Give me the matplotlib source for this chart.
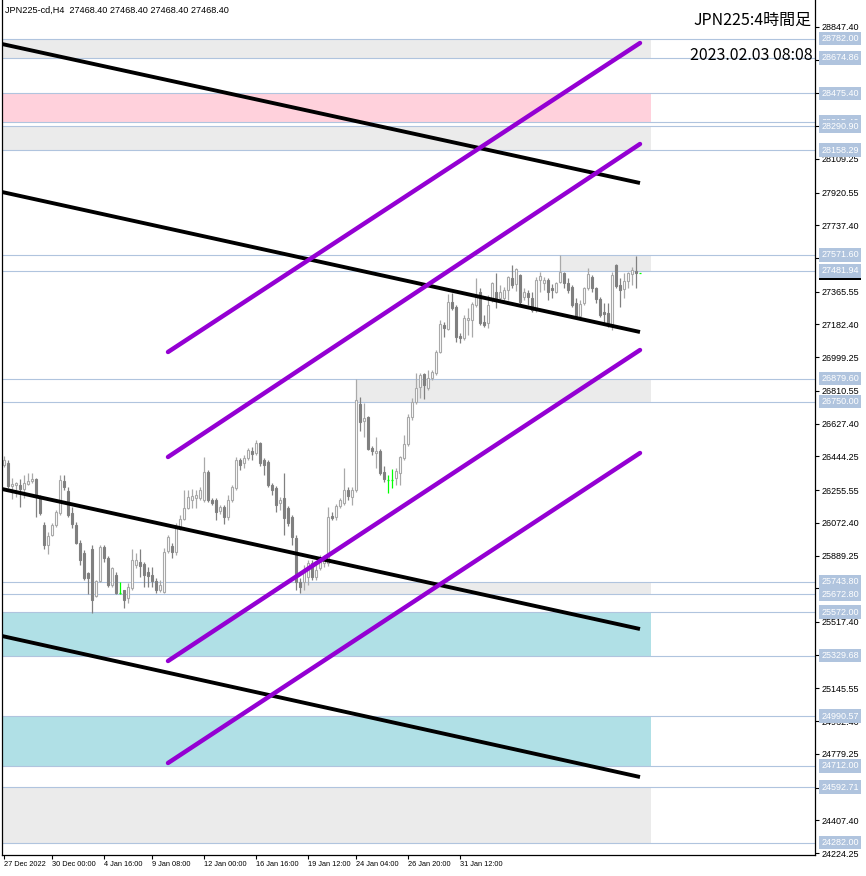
import matplotlib
matplotlib.use('Agg')
import matplotlib.pyplot as plt
import matplotlib.transforms as mtransforms

# JPN225 H4 candles, oldest first
opens = [26396, 26407, 26278, 26284, 26284, 26262, 26290, 26306, 26318, 26217,
         26060, 25948, 26004, 26060, 26127, 26306, 26250, 26127, 26060, 25959,
         25903, 25791, 25926, 25662, 25746, 25937, 25875, 25724, 25780, 25679,
         25696, 25651, 25707, 25836, 25853, 25842, 25797, 25780, 25746, 25696,
         25685, 25914, 25942, 25909, 26049, 26094, 26155, 26200, 26211, 26211,
         26200, 26357, 26200, 26200, 26138, 26161, 26105, 26200, 26267, 26424,
         26407, 26435, 26474, 26463, 26519, 26424, 26413, 26284, 26267, 26183,
         26211, 26155, 26105, 25987, 25741, 25741, 25769, 25847, 25769, 25819,
         25847, 25847, 26110, 26105, 26166, 26183, 26256, 26217, 26256, 26737,
         26642, 26665, 26491, 26463, 26474, 26357, 26312, 26312, 26323, 26351,
         26435, 26513, 26665, 26749, 26833, 26906, 26827, 26883, 26911, 27028,
         27180, 27157, 27308, 27280, 27118, 27107, 27208, 27208, 27291, 27364,
         27197, 27191, 27319, 27364, 27331, 27331, 27375, 27443, 27409, 27459,
         27336, 27359, 27331, 27263, 27431, 27415, 27431, 27387, 27364, 27420,
         27471, 27415, 27392, 27303, 27230, 27303, 27387, 27448, 27387, 27325,
         27252, 27247, 27180, 27515, 27403, 27381, 27426, 27465, 27482, 27468.4]
highs = [26446, 26424, 26323, 26301, 26318, 26340, 26351, 26351, 26323, 26228,
         26077, 26021, 26071, 26144, 26340, 26340, 26273, 26161, 26077, 25976,
         25920, 25797, 25948, 25752, 25948, 25948, 25886, 25825, 25797, 25741,
         25696, 25735, 25926, 25903, 25926, 25853, 25825, 25825, 25763, 25752,
         25931, 26004, 25959, 26071, 26116, 26256, 26256, 26262, 26256, 26273,
         26441, 26368, 26211, 26211, 26172, 26172, 26228, 26284, 26441, 26435,
         26452, 26491, 26497, 26536, 26525, 26435, 26424, 26295, 26278, 26217,
         26351, 26166, 26116, 26004, 25763, 25836, 25864, 25864, 25853, 25892,
         25892, 26161, 26133, 26178, 26211, 26379, 26273, 26273, 26879.6, 26777,
         26743, 26670, 26502, 26553, 26486, 26390, 26340, 26374, 26379, 26446,
         26564, 26681, 26771, 26911, 26911, 26911, 26928, 26928, 27040, 27208,
         27197, 27353, 27359, 27291, 27135, 27236, 27275, 27308, 27443, 27387,
         27236, 27347, 27420, 27471, 27403, 27392, 27454, 27515, 27499, 27465,
         27387, 27375, 27364, 27448, 27476, 27448, 27443, 27409, 27420, 27571.6,
         27476, 27443, 27403, 27331, 27319, 27392, 27499, 27459, 27392, 27336,
         27303, 27303, 27476, 27521, 27443, 27471, 27476, 27504, 27565, 27468.4]
lows = [26385, 26267, 26206, 26217, 26161, 26211, 26284, 26295, 26105, 26116,
        25926, 25898, 25998, 26049, 26116, 26256, 26105, 26043, 25954, 25836,
        25752, 25674, 25567, 25657, 25741, 25853, 25713, 25713, 25674, 25674,
        25595, 25623, 25696, 25819, 25769, 25713, 25713, 25713, 25679, 25685,
        25679, 25903, 25875, 25892, 26032, 26088, 26150, 26155, 26155, 26200,
        26189, 26189, 26172, 26088, 26122, 26066, 26088, 26189, 26256, 26368,
        26379, 26424, 26424, 26452, 26390, 26340, 26273, 26228, 26133, 26144,
        26004, 26054, 25948, 25696, 25679, 25696, 25724, 25752, 25752, 25808,
        25825, 25830, 26088, 26088, 26155, 26172, 26200, 26172, 26245, 26586,
        26553, 26480, 26452, 26379, 26340, 26301, 26239, 26267, 26284, 26284,
        26424, 26502, 26648, 26737, 26771, 26766, 26816, 26872, 26900, 27023,
        27112, 27152, 27263, 27085, 27079, 27096, 27124, 27112, 27280, 27180,
        27168, 27163, 27308, 27275, 27319, 27308, 27319, 27387, 27370, 27291,
        27319, 27291, 27252, 27252, 27364, 27375, 27319, 27331, 27359, 27415,
        27387, 27359, 27280, 27224, 27208, 27291, 27375, 27364, 27303, 27224,
        27191, 27168, 27152, 27387, 27280, 27331, 27387, 27403, 27387, 27468.4]
closes = [26424, 26278, 26290, 26295, 26262, 26295, 26306, 26318, 26217, 26127,
          25948, 25998, 26060, 26133, 26312, 26273, 26116, 26066, 25959, 25864,
          25763, 25763, 25640, 25746, 25937, 25875, 25724, 25819, 25679, 25679,
          25640, 25713, 25864, 25864, 25830, 25780, 25774, 25746, 25696, 25724,
          25909, 25993, 25909, 26049, 26094, 26155, 26217, 26222, 26228, 26256,
          26357, 26200, 26183, 26133, 26161, 26105, 26200, 26273, 26424, 26396,
          26435, 26480, 26458, 26519, 26407, 26396, 26284, 26256, 26172, 26200,
          26099, 26071, 25993, 25741, 25713, 25797, 25847, 25769, 25808, 25864,
          25875, 26105, 26099, 26166, 26200, 26256, 26222, 26256, 26760, 26637,
          26659, 26486, 26474, 26474, 26351, 26318, 26312, 26312, 26362, 26441,
          26513, 26665, 26749, 26827, 26900, 26844, 26883, 26917, 27028, 27185,
          27163, 27308, 27275, 27112, 27107, 27219, 27219, 27297, 27336, 27191,
          27180, 27291, 27415, 27331, 27364, 27375, 27448, 27403, 27493, 27308,
          27364, 27336, 27263, 27431, 27454, 27431, 27364, 27375, 27415, 27476,
          27415, 27375, 27291, 27230, 27297, 27387, 27465, 27387, 27325, 27236,
          27241, 27180, 27459, 27398, 27375, 27426, 27471, 27487, 27468.4, 27468.4]

time_ticks = [0, 12, 25, 37, 50, 63, 76, 88, 101, 114]
time_labels = ['27 Dec 2022', '30 Dec 00:00', '4 Jan 16:00', '9 Jan 08:00', '12 Jan 00:00',
               '16 Jan 16:00', '19 Jan 12:00', '24 Jan 04:00', '26 Jan 20:00', '31 Jan 12:00']

price_ticks = [28847.40, 28664.25, 28475.55, 28292.40, 28109.25, 27920.55, 27737.40,
               27554.25, 27365.55, 27182.40, 26999.25, 26810.55, 26627.40, 26444.25,
               26255.55, 26072.40, 25889.25, 25706.55, 25517.40, 25334.25, 25145.55,
               24962.40, 24779.25, 24590.55, 24407.40, 24224.25]

levels = [28782.00, 28674.86, 28475.40, 28315.40, 28290.90, 28158.29, 27571.60, 27481.94,
          26879.60, 26750.00, 25743.80, 25672.80, 25572.00, 25329.68, 24990.57, 24712.00,
          24592.71, 24282.00]

# zones: start bar, top, bottom, colour
zone_start = [-1, -1, -1, 139, 88, 74, -1, -1, -1]
zone_top = [28782.00, 28475.40, 28290.90, 27571.60, 26879.60, 25743.80, 25572.00, 24990.57, 24592.71]
zone_bot = [28674.86, 28315.40, 28158.29, 27481.94, 26750.00, 25672.80, 25329.68, 24712.00, 24282.00]
zone_col = ['#EBEBEB', '#FFD1DC', '#EBEBEB', '#EBEBEB', '#EBEBEB', '#EBEBEB', '#B0E0E6', '#B0E0E6', '#EBEBEB']
zone_end = 161.75

# trend lines: (x0, y0, x1, y1)
black_lines = [(-0.5, 28752.2, 159, 27974.2),
               (-0.5, 27923.9, 159, 27140.3),
               (-0.5, 26261.6, 159, 25478.0),
               (-0.5, 25438.8, 159, 24649.6)]
purple_lines = [(41, 27028.4, 159, 28757.8),
                (41, 26440.7, 159, 28192.5),
                (41, 25298.9, 159, 27039.5),
                (41, 24728.0, 159, 26463.1)]

last_price = 27468.40

W, H = 866, 876
fig = plt.figure(figsize=(W/100, H/100), dpi=100)
ax = fig.add_axes([2/W, 21/H, 813/W, 855/H])
ax.set_xlim(-0.5, 202.75)
ax.set_ylim(24213.1, 28998.5)

for s, t, b, c in zip(zone_start, zone_top, zone_bot, zone_col):
    ax.fill_between([s, zone_end], b, t, color=c, lw=0, zorder=0.5)

for lv in levels:
    ax.axhline(lv, color='#B0C4DE', lw=0.8, zorder=1)

bull_c = '#A9A9A9'
bear_c = '#808080'
for i in range(len(opens)):
    o, h, l, c = opens[i], highs[i], lows[i], closes[i]
    if o == c:
        ax.vlines(i, l, h, color='#00FF00', lw=0.9, zorder=2)
        ax.hlines(c, i-0.35, i+0.35, color='#00FF00', lw=0.9, zorder=2)
    elif c > o:
        ax.vlines(i, l, h, color=bull_c, lw=0.9, zorder=2)
        ax.bar(i, c-o, bottom=o, width=0.55, facecolor='white', edgecolor=bull_c, lw=0.8, zorder=2.1)
    else:
        ax.vlines(i, l, h, color=bear_c, lw=0.9, zorder=2)
        ax.bar(i, o-c, bottom=c, width=0.55, facecolor=bear_c, edgecolor=bear_c, lw=0.8, zorder=2.1)

for x0, y0, x1, y1 in black_lines:
    ax.plot([x0, x1], [y0, y1], color='black', lw=2.8, solid_capstyle='butt', zorder=3)
for x0, y0, x1, y1 in purple_lines:
    ax.plot([x0, x1], [y0, y1], color='#9400D3', lw=3.2, solid_capstyle='round', zorder=3)

ax.spines['top'].set_visible(False)
for sp in ['left', 'right', 'bottom']:
    ax.spines[sp].set_linewidth(0.9)
    ax.spines[sp].set_color('black')

ax.yaxis.tick_right()
ax.set_yticks(price_ticks)
ax.set_yticklabels(['%.2f' % p for p in price_ticks])
ax.set_xticks(time_ticks)
ax.set_xticklabels(time_labels, ha='left')
ax.tick_params(axis='y', direction='out', length=3, width=0.8, pad=2, labelsize=6.5)
ax.tick_params(axis='x', direction='out', length=3, width=0.8, pad=1.5, labelsize=5.3)
for lab in ax.get_xticklabels() + ax.get_yticklabels():
    lab.set_family('Liberation Sans')

trans = mtransforms.blended_transform_factory(ax.transAxes, ax.transData)
ax.text(1.0075, last_price, '%.2f' % last_price, transform=trans, va='center', ha='left',
        color='white', fontsize=6.5, family='Liberation Sans', clip_on=False, zorder=9,
        bbox=dict(boxstyle='square,pad=0.25', fc='black', ec='none'))
for lv in levels:
    ax.text(1.0075, lv, '%.2f' % lv, transform=trans, va='center', ha='left',
            color='white', fontsize=6.5, family='Liberation Sans', clip_on=False, zorder=10,
            bbox=dict(boxstyle='square,pad=0.25', fc='#B0C4DE', ec='none'))

fig.text(5/W, 1-10/H, 'JPN225-cd,H4  27468.40 27468.40 27468.40 27468.40', va='center', ha='left',
         fontsize=6.6, family='Liberation Sans')
fig.text(812/W, 1-20/H, 'JPN225:4時間足', va='center', ha='right', fontsize=11.5,
         family=['Noto Sans CJK JP', 'DejaVu Sans'])
fig.text(813/W, 1-55/H, '2023.02.03 08:08', va='center', ha='right', fontsize=11.5,
         family=['Noto Sans CJK JP', 'DejaVu Sans'])

fig.savefig('out.png', dpi=100)
